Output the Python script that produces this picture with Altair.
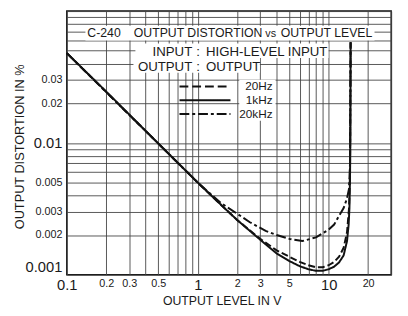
import altair as alt
import pandas as pd

# ---- data ----
v_1k = [0.1, 0.2, 0.5, 1, 1.5, 2, 2.5, 3.3, 4, 5, 6, 7, 8, 9, 10, 11, 12, 13, 13.8, 14.2, 14.4, 14.55, 14.65, 14.7]
thd_1k = [0.048, 0.0245, 0.0099, 0.005, 0.0034, 0.0026, 0.00215, 0.0017, 0.00145, 0.00127, 0.00116, 0.0011, 0.00107,
          0.00107, 0.0011, 0.00115, 0.00124, 0.0014, 0.0018, 0.0024, 0.0032, 0.0055, 0.012, 0.058]

v_20k = [0.1, 1, 1.5, 2, 2.5, 3.3, 4, 5, 6.3, 8, 10, 11, 12, 13, 13.8, 14.3, 14.55, 14.7]
thd_20k = [0.048, 0.005, 0.0035, 0.0029, 0.0025, 0.00215, 0.002, 0.00187, 0.0018, 0.00192, 0.0022, 0.0024,
           0.0028, 0.0032, 0.0038, 0.0045, 0.007, 0.058]

v_20 = [0.1, 1, 1.5, 2, 3, 4, 5, 6, 7, 8, 9, 10, 11, 12, 13, 13.8, 14.3, 14.55, 14.7]
thd_20 = [0.048, 0.005, 0.0034, 0.0026, 0.00187, 0.00153, 0.00137, 0.00125, 0.00118, 0.00114, 0.00114, 0.00118,
          0.00125, 0.00137, 0.0016, 0.0021, 0.0032, 0.006, 0.058]

series_names = ["20Hz", "1kHz", "20kHz"]

x_grid = [0.1, 0.2, 0.3, 0.4, 0.5, 0.6, 0.7, 0.8, 0.9, 1, 2, 3, 4, 5, 6, 7, 8, 9, 10, 20, 30]
x_labels = ["0.1", "0.2", "0.3", "0.5", "1", "2", "3", "5", "10", "20"]
y_grid = [0.001, 0.002, 0.003, 0.004, 0.005, 0.006, 0.007, 0.008, 0.009,
          0.01, 0.02, 0.03, 0.04, 0.05, 0.06, 0.07, 0.08, 0.09, 0.1]
y_labels = ["0.001", "0.002", "0.003", "0.005", "0.01", "0.02", "0.03"]

FONT = "Liberation Sans"
INK = "#1a1a1a"

rows = []
for name, vs, ts in [("20Hz", v_20, thd_20), ("1kHz", v_1k, thd_1k), ("20kHz", v_20k, thd_20k)]:
    for v, t in zip(vs, ts):
        rows.append({"series": name, "V": v, "THD": t})
df = pd.DataFrame(rows)


def label_expr(labels):
    arr = ",".join("'%s'" % s for s in labels)
    return "indexof([%s], toString(datum.value)) >= 0 ? toString(datum.value) : ''" % arr


x_axis = alt.Axis(
    values=x_grid, labelExpr=label_expr(x_labels), grid=True, ticks=False, tickSize=0, domain=False,
    labelOverlap=False, labelFlush=False, labelPadding=3, labelFont=FONT, labelColor=INK,
    labelFontSize={"condition": {"test": "datum.value == 0.1 || datum.value == 1 || datum.value == 10", "value": 15}, "value": 11},
    title="OUTPUT LEVEL IN V", titleFont=FONT, titleFontSize=12.5, titleFontWeight="normal", titleColor=INK,
    titleX=158, titleY=26, titleBaseline="middle", titleAlign="center",
)
y_axis = alt.Axis(
    values=y_grid, labelExpr=label_expr(y_labels), grid=True, ticks=False, tickSize=0, domain=False,
    labelOverlap=False, labelFlush=True, labelPadding=5, labelFont=FONT, labelColor=INK,
    labelFontSize={"condition": {"test": "datum.value == 0.001 || datum.value == 0.01", "value": 15}, "value": 11},
    title="OUTPUT DISTORTION IN %", titleFont=FONT, titleFontSize=13, titleFontWeight="normal", titleColor=INK,
    titleX=-48, titleY=138, titleBaseline="middle", titleAlign="center", titleAngle=270,
)

dash_scale = alt.Scale(domain=series_names, range=[[7, 3], [1, 0], [10, 3, 3, 3]])

curves = alt.Chart(df).mark_line(color="#111", strokeWidth=2).encode(
    x=alt.X("V:Q", scale=alt.Scale(type="log", domain=[0.1, 30], nice=False), axis=x_axis),
    y=alt.Y("THD:Q", scale=alt.Scale(type="log", domain=[0.001, 0.1], nice=False), axis=y_axis),
    strokeDash=alt.StrokeDash("series:N", scale=dash_scale, legend=None),
    detail="series:N",
    order="V:Q",
)

one = pd.DataFrame({"k": [0]})


def box(x1, x2, y1, y2):
    return alt.Chart(one).mark_rect(color="white").encode(
        x=alt.value(x1), x2=alt.value(x2), y=alt.value(y1), y2=alt.value(y2))


def txt(s, x, y, size, align="center"):
    return alt.Chart(one).mark_text(text=s, font=FONT, fontSize=size, color=INK, align=align,
                                    baseline="middle").encode(x=alt.value(x), y=alt.value(y))


def sample(y, dash):
    return alt.Chart(one).mark_rule(color="#111", strokeWidth=2, strokeDash=dash).encode(
        x=alt.value(115), x2=alt.value(167), y=alt.value(y))


layers = [
    box(19, 314, 15, 30),
    box(70, 267, 33, 48),
    box(68, 197, 48, 63),
    box(176, 213, 70, 112),
    curves,
    txt("C-240", 38, 22, 12.5),
    txt("OUTPUT DISTORTION", 134, 22, 12.5),
    txt("vs", 208, 23, 11),
    txt("OUTPUT LEVEL", 265, 22, 12.5),
    txt("INPUT", 128, 42, 13.5, "right"),
    txt(":", 134, 42, 13.5),
    txt("HIGH-LEVEL INPUT", 142, 42, 13.5, "left"),
    txt("OUTPUT", 128, 57, 13.5, "right"),
    txt(":", 134, 57, 13.5),
    txt("OUTPUT", 142, 57, 13.5, "left"),
    sample(77, [9, 4]),
    sample(91, [1, 0]),
    sample(105, [10, 3, 3, 3]),
    txt("20Hz", 210, 77, 12, "right"),
    txt("1kHz", 210, 91, 12, "right"),
    txt("20kHz", 210, 105, 12, "right"),
]

chart = alt.layer(*layers).properties(
    width=331, height=269,
    autosize=alt.AutoSizeParams(type="none"),
    padding={"left": 60, "top": 0, "right": 9, "bottom": 39},
    background="white",
).configure_view(stroke="#111", strokeWidth=1.5).configure_axis(
    gridColor="#444", gridWidth=0.9, gridOpacity=1
)

chart.save("out.html", embed_options={"renderer": "svg", "actions": False})
